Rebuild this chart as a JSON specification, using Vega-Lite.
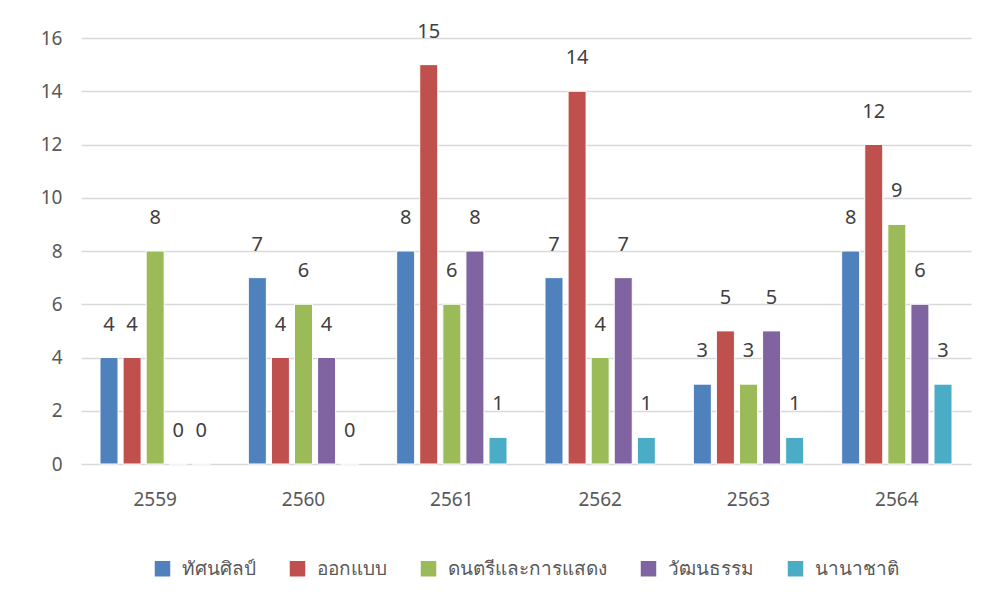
{
  "$schema": "https://vega.github.io/schema/vega-lite/v6.json",
  "width": 890,
  "height": 426,
  "autosize": {"type": "none"},
  "padding": {"left": 81, "top": 38, "right": 23, "bottom": 145},
  "background": "white",
  "config": {
    "view": {"stroke": null},
    "legend": {"layout": {"bottom": {"anchor": "middle"}}}
  },
  "data": {
    "values": [
      {"year": "2559", "group": "ทัศนศิลป์", "value": 4},
      {"year": "2559", "group": "ออกแบบ", "value": 4},
      {"year": "2559", "group": "ดนตรีและการแสดง", "value": 8},
      {"year": "2559", "group": "วัฒนธรรม", "value": 0},
      {"year": "2559", "group": "นานาชาติ", "value": 0},
      {"year": "2560", "group": "ทัศนศิลป์", "value": 7},
      {"year": "2560", "group": "ออกแบบ", "value": 4},
      {"year": "2560", "group": "ดนตรีและการแสดง", "value": 6},
      {"year": "2560", "group": "วัฒนธรรม", "value": 4},
      {"year": "2560", "group": "นานาชาติ", "value": 0},
      {"year": "2561", "group": "ทัศนศิลป์", "value": 8},
      {"year": "2561", "group": "ออกแบบ", "value": 15},
      {"year": "2561", "group": "ดนตรีและการแสดง", "value": 6},
      {"year": "2561", "group": "วัฒนธรรม", "value": 8},
      {"year": "2561", "group": "นานาชาติ", "value": 1},
      {"year": "2562", "group": "ทัศนศิลป์", "value": 7},
      {"year": "2562", "group": "ออกแบบ", "value": 14},
      {"year": "2562", "group": "ดนตรีและการแสดง", "value": 4},
      {"year": "2562", "group": "วัฒนธรรม", "value": 7},
      {"year": "2562", "group": "นานาชาติ", "value": 1},
      {"year": "2563", "group": "ทัศนศิลป์", "value": 3},
      {"year": "2563", "group": "ออกแบบ", "value": 5},
      {"year": "2563", "group": "ดนตรีและการแสดง", "value": 3},
      {"year": "2563", "group": "วัฒนธรรม", "value": 5},
      {"year": "2563", "group": "นานาชาติ", "value": 1},
      {"year": "2564", "group": "ทัศนศิลป์", "value": 8},
      {"year": "2564", "group": "ออกแบบ", "value": 12},
      {"year": "2564", "group": "ดนตรีและการแสดง", "value": 9},
      {"year": "2564", "group": "วัฒนธรรม", "value": 6},
      {"year": "2564", "group": "นานาชาติ", "value": 3}
    ]
  },
  "encoding": {
    "x": {
      "field": "year",
      "type": "nominal",
      "scale": {"paddingInner": 0.225, "paddingOuter": 0.1125},
      "axis": {
        "title": null,
        "labelAngle": 0,
        "ticks": false,
        "domain": false,
        "labelPadding": 26,
        "labelFontSize": 19,
        "labelColor": "#595959",
        "labelFont": "Noto Sans"
      }
    },
    "xOffset": {
      "field": "group",
      "type": "nominal",
      "sort": ["ทัศนศิลป์", "ออกแบบ", "ดนตรีและการแสดง", "วัฒนธรรม", "นานาชาติ"],
      "scale": {"paddingInner": 0.22, "paddingOuter": 0.1}
    },
    "y": {
      "field": "value",
      "type": "quantitative",
      "scale": {"domain": [0, 16]},
      "axis": {
        "title": null,
        "values": [0, 2, 4, 6, 8, 10, 12, 14, 16],
        "ticks": false,
        "domain": false,
        "gridColor": "#d9d9d9",
        "gridWidth": 1.3,
        "labelPadding": 19,
        "labelFontSize": 19,
        "labelColor": "#595959",
        "labelFont": "Noto Sans"
      }
    }
  },
  "layer": [
    {
      "mark": {"type": "bar", "stroke": "white", "strokeWidth": 1},
      "encoding": {
        "color": {
          "field": "group",
          "type": "nominal",
          "sort": ["ทัศนศิลป์", "ออกแบบ", "ดนตรีและการแสดง", "วัฒนธรรม", "นานาชาติ"],
          "scale": {
            "domain": ["ทัศนศิลป์", "ออกแบบ", "ดนตรีและการแสดง", "วัฒนธรรม", "นานาชาติ"],
            "range": ["#4f81bd", "#c0504d", "#9bbb59", "#8064a2", "#4bacc6"]
          },
          "legend": {
            "title": null,
            "orient": "bottom",
            "direction": "horizontal",
            "symbolType": "square",
            "symbolSize": 240,
            "symbolStrokeWidth": 0,
            "labelFontSize": 19,
            "labelOffset": 10,
            "labelColor": "#595959",
            "labelFont": "Noto Sans",
            "columnPadding": 32,
            "offset": 50
          }
        }
      }
    },
    {
      "mark": {
        "type": "text",
        "baseline": "middle",
        "dy": -33,
        "fontSize": 20,
        "color": "#404040",
        "font": "Noto Sans"
      },
      "encoding": {
        "text": {"field": "value", "type": "quantitative"}
      }
    }
  ]
}
